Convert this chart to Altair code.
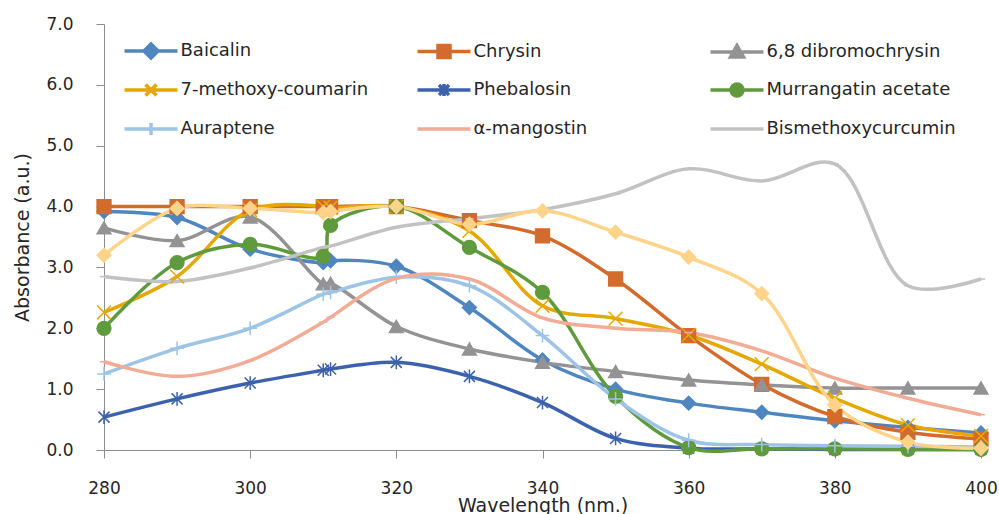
import altair as alt
import pandas as pd

# ---------------- data ----------------
wavelength = [280, 290, 300, 310, 311, 320, 330, 340, 350, 360, 370, 380, 390, 400]

series_names = [
    "Baicalin", "Chrysin", "6,8 dibromochrysin",
    "7-methoxy-coumarin", "Phebalosin", "Murrangatin acetate",
    "Auraptene", "α-mangostin", "Bismethoxycurcumin",
    "Series 10",
]

baicalin = [3.92, 3.82, 3.30, 3.08, 3.11, 3.02, 2.34, 1.48, 1.00, 0.77, 0.62, 0.48, 0.37, 0.28]
chrysin = [4.00, 4.00, 4.00, 4.00, 4.00, 4.00, 3.77, 3.52, 2.81, 1.88, 1.08, 0.55, 0.29, 0.18]
dibromochrysin = [3.65, 3.44, 3.83, 2.73, 2.74, 2.03, 1.66, 1.44, 1.29, 1.15, 1.07, 1.02, 1.02, 1.02]
methoxy_coumarin = [2.26, 2.85, 3.94, 4.00, 3.98, 4.00, 3.60, 2.37, 2.16, 1.89, 1.41, 0.85, 0.41, 0.23]
phebalosin = [0.54, 0.84, 1.10, 1.31, 1.33, 1.44, 1.21, 0.78, 0.19, 0.03, 0.02, 0.01, 0.01, 0.01]
murrangatin = [2.00, 3.08, 3.38, 3.18, 3.69, 4.00, 3.33, 2.59, 0.88, 0.04, 0.02, 0.02, 0.01, 0.01]
auraptene = [1.25, 1.67, 2.00, 2.56, 2.59, 2.84, 2.70, 1.88, 0.84, 0.16, 0.09, 0.07, 0.06, 0.05]
mangostin = [1.45, 1.21, 1.47, 2.10, 2.18, 2.82, 2.81, 2.17, 2.00, 1.93, 1.63, 1.18, 0.85, 0.58]
bismethoxycurcumin = [2.85, 2.77, 2.99, 3.33, 3.35, 3.66, 3.80, 3.95, 4.21, 4.62, 4.42, 4.70, 2.70, 2.81]
series10 = [3.20, 3.97, 3.97, 3.90, 3.92, 4.00, 3.71, 3.93, 3.58, 3.17, 2.57, 0.74, 0.13, 0.03]

series_values = [baicalin, chrysin, dibromochrysin, methoxy_coumarin, phebalosin,
                 murrangatin, auraptene, mangostin, bismethoxycurcumin, series10]

x_ticks = [280, 300, 320, 340, 360, 380, 400]
y_ticks = [0, 1, 2, 3, 4, 5, 6, 7]

# ---------------- styles ----------------
colors = ["#4f86bf", "#d26b2b", "#939393", "#e5a800", "#3c62ae",
          "#5f9a3d", "#9dc3e6", "#f2ab94", "#c2c2c2", "#ffd38a"]

X_PATH = "M-1,-1L1,1M-1,1L1,-1"
STAR_PATH = "M0,-1L0,1M-0.8,-0.8L0.8,0.8M-0.8,0.8L0.8,-0.8"
PLUS_PATH = "M-1,0L1,0M0,-1L0,1"
DASH_PATH = "M-0.6,0L0.6,0"

marker_shapes = ["diamond", "square", "triangle-up", X_PATH, STAR_PATH,
                 "circle", PLUS_PATH, DASH_PATH, DASH_PATH, "diamond"]
marker_fills = [colors[0], colors[1], colors[2], "transparent", "transparent",
                colors[5], "transparent", "transparent", "transparent", colors[9]]

# legend symbols: a line with the marker in the middle (unit = 10 px)
L = "M-2.65,0L2.65,0"
legend_paths = [
    L + "M0,-0.7L0.7,0L0,0.7L-0.7,0Z",
    L + "M-0.6,-0.6L0.6,-0.6L0.6,0.6L-0.6,0.6Z",
    L + "M0,-0.65L0.65,0.5L-0.65,0.5Z",
    L + "M-0.55,-0.55L0.55,0.55M-0.55,0.55L0.55,-0.55",
    L + "M0,-0.6L0,0.6M-0.5,-0.5L0.5,0.5M-0.5,0.5L0.5,-0.5",
    L + "M0.6,0A0.6,0.6 0 1,1 -0.6,0A0.6,0.6 0 1,1 0.6,0Z",
    L + "M0,-0.6L0,0.6",
    L,
    L,
    L,
]

rows = []
for name, vals in zip(series_names, series_values):
    for w, v in zip(wavelength, vals):
        rows.append({"wl": w, "absorb": v, "series": name})
df = pd.DataFrame(rows)

FONT = "DejaVu Sans"
TEXT = "#262626"

legend = alt.Legend(
    values=series_names[:9],
    orient="none",
    direction="horizontal",
    legendX=35,
    legendY=15,
    columns=3,
    gridAlign="all",
    columnPadding=40,
    rowPadding=12,
    title=None,
    padding=0,
    symbolSize=400,
    symbolStrokeWidth=3.5,
    symbolOpacity=1,
    labelFont=FONT,
    labelFontSize=18,
    labelColor=TEXT,
    labelOffset=17.5,
    labelLimit=400,
)

x_enc = alt.X(
    "wl:Q",
    scale=alt.Scale(domain=[280, 400], nice=False, zero=False),
    axis=alt.Axis(
        values=x_ticks, title="Wavelength (nm.)", grid=False,
        domainColor="#8c8c8c", tickColor="#8c8c8c", tickSize=8,
        labelFlush=False,
        labelPadding=22, labelFont=FONT, labelFontSize=17, labelColor=TEXT,
        titleFont=FONT, titleFontSize=19, titleFontWeight="normal", titleColor=TEXT,
        titleY=61, titleBaseline="alphabetic",
    ),
)
y_enc = alt.Y(
    "absorb:Q",
    scale=alt.Scale(domain=[0, 7], nice=False),
    axis=alt.Axis(
        values=y_ticks, format=".1f", title="Absorbance (a.u.)", grid=False,
        domainColor="#8c8c8c", tickColor="#8c8c8c", tickSize=8,
        labelFlush=False,
        labelPadding=23, labelFont=FONT, labelFontSize=17, labelColor=TEXT,
        titleFont=FONT, titleFontSize=19, titleFontWeight="normal", titleColor=TEXT,
        titleX=-82, titleBaseline="middle",
    ),
)

lines = alt.Chart(df).mark_line(strokeWidth=3.5, interpolate="catmull-rom").encode(
    x=x_enc, y=y_enc,
    stroke=alt.Stroke("series:N", scale=alt.Scale(domain=series_names, range=colors), legend=None),
)

points = alt.Chart(df).mark_point(filled=True, size=190, strokeWidth=1.5, opacity=1).encode(
    x=x_enc, y=y_enc,
    stroke=alt.Stroke("series:N", scale=alt.Scale(domain=series_names, range=colors), legend=None),
    fill=alt.Fill("series:N", scale=alt.Scale(domain=series_names, range=marker_fills), legend=None),
    shape=alt.Shape("series:N", scale=alt.Scale(domain=series_names, range=marker_shapes), legend=None),
)

# legend-only layer (no rows drawn): line + marker symbols
legend_layer = alt.Chart(df).transform_filter("false").transform_calculate(
    entry="datum.series"
).mark_point(filled=True, opacity=1).encode(
    stroke=alt.Stroke("entry:N", scale=alt.Scale(domain=series_names, range=colors), legend=legend),
    fill=alt.Fill("entry:N", scale=alt.Scale(domain=series_names, range=marker_fills), legend=legend),
    shape=alt.Shape("entry:N", scale=alt.Scale(domain=series_names, range=legend_paths), legend=legend),
)

chart = alt.layer(lines, points, legend_layer).resolve_scale(
    stroke="independent", fill="independent", shape="independent"
).properties(
    width=877,
    height=426,
    autosize=alt.AutoSizeParams(type="none"),
    padding={"left": 104, "top": 24, "right": 18, "bottom": 64},
    background="white",
).configure_view(stroke=None)

chart.save("out.html", embed_options={"renderer": "svg", "actions": False})
